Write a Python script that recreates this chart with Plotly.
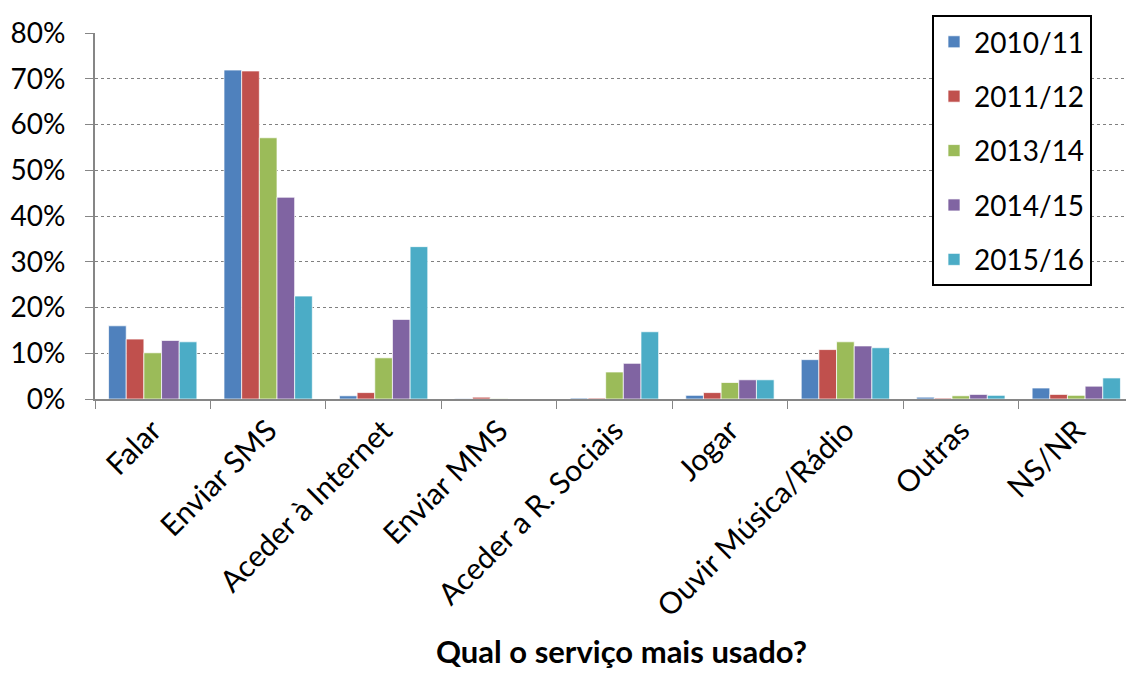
import plotly.graph_objects as go

categories = ["Falar", "Enviar SMS", "Aceder à Internet", "Enviar MMS",
              "Aceder a R. Sociais", "Jogar", "Ouvir Música/Rádio", "Outras", "NS/NR"]
series_names = ["2010/11", "2011/12", "2013/14", "2014/15", "2015/16"]
v2010 = [16.0, 71.9, 0.7, 0.1, 0.2, 0.8, 8.6, 0.4, 2.4]
v2011 = [13.1, 71.7, 1.4, 0.4, 0.2, 1.4, 10.8, 0.2, 1.0]
v2013 = [10.1, 57.1, 9.0, 0.1, 5.9, 3.6, 12.5, 0.7, 0.8]
v2014 = [12.8, 44.1, 17.4, 0.0, 7.8, 4.2, 11.6, 1.0, 2.8]
v2015 = [12.5, 22.5, 33.3, 0.0, 14.7, 4.2, 11.2, 0.8, 4.6]
series_values = [v2010, v2011, v2013, v2014, v2015]
colors = ["#4F81BD", "#C0504D", "#9BBB59", "#8064A2", "#4BACC6"]
y_ticks = [0, 10, 20, 30, 40, 50, 60, 70, 80]
y_ticklabels = [f"{t}%" for t in y_ticks]
x_title = "Qual o serviço mais usado?"

FONT = "Lato, 'Open Sans', sans-serif"

fig = go.Figure()
for i, (name, vals, col) in enumerate(zip(series_names, series_values, colors)):
    fig.add_trace(go.Bar(
        x=categories, y=vals, name=name, legendgroup=name,
        marker=dict(color=col, line=dict(color="rgba(255,255,255,0.7)", width=1)),
    ))

fig.add_annotation(
    text=f"<b>{x_title}</b>", xref="paper", yref="paper",
    x=0.507, y=-0.689, xanchor="center", yanchor="middle", showarrow=False,
    font=dict(family=FONT, size=31, color="black"),
)

# page body has an 8px default margin; figure is sized/offset to compensate
fig.update_layout(
    width=1126, height=665,
    margin=dict(l=87, r=0, t=25, b=274),
    paper_bgcolor="white", plot_bgcolor="white",
    barmode="group", bargap=0.235, bargroupgap=0,
    font=dict(family=FONT, size=28, color="black"),
    showlegend=True,
    legend=dict(
        x=0.8056, y=1.049, xanchor="left", yanchor="top",
        bordercolor="black", borderwidth=2, bgcolor="white",
        font=dict(family=FONT, size=28, color="black"),
        traceorder="grouped", tracegroupgap=15,
    ),
    xaxis=dict(
        automargin=False,
        tickangle=-45, tickson="boundaries", ticks="outside", ticklen=8,
        tickcolor="#868686", showline=True, linecolor="#868686", linewidth=2,
        tickfont=dict(family=FONT, size=30),
        showgrid=False,
    ),
    yaxis=dict(
        automargin=False,
        range=[0, 80], tickvals=y_ticks, ticktext=y_ticklabels,
        ticks="outside", ticklen=8, tickcolor="#868686",
        showline=True, linecolor="#868686", linewidth=2,
        showgrid=True, gridcolor="#808080", griddash="dot", gridwidth=1,
        zeroline=False, tickfont=dict(family=FONT, size=28),
        ticklabelstandoff=14,
    ),
)

fig.write_html("out.html")
